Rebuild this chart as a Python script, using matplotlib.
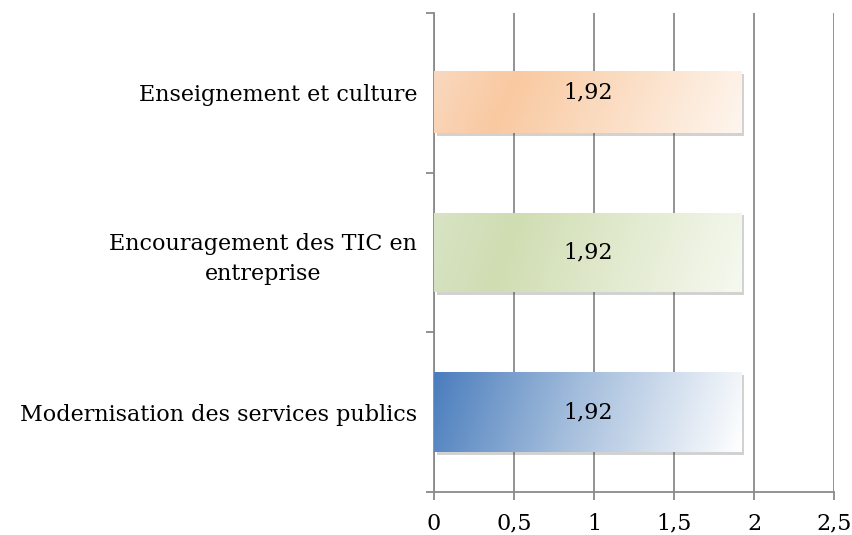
import numpy as np
import matplotlib.pyplot as plt
from matplotlib import patheffects
from matplotlib.colors import LinearSegmentedColormap

# data
categories = ['Modernisation des services publics',
              'Encouragement des TIC en\nentreprise',
              'Enseignement et culture']
values = [1.92, 1.92, 1.92]
value_labels = ['1,92', '1,92', '1,92']
xticks = [0, 0.5, 1, 1.5, 2, 2.5]
xtick_labels = ['0', '0,5', '1', '1,5', '2', '2,5']

# gradient stops for each bar (bottom to top)
gradients = [
    [(0.0, '#4a7dbd'), (0.45, '#a3bddc'), (1.0, '#ffffff')],
    [(0.0, '#d8e3c4'), (0.25, '#d0ddb2'), (1.0, '#f6f9f0')],
    [(0.0, '#f9d8be'), (0.25, '#f9c9a1'), (1.0, '#fef6ee')],
]
bar_heights = [0.5, 0.5, 0.385]

plt.rcParams['font.family'] = ['DejaVu Serif']
fs = 16
fig = plt.figure(figsize=(8.52, 5.35), dpi=100)
ax = fig.add_axes([0.5094, 0.0804, 0.4695, 0.8953])

grid_c = '#8a8a8a'
ax.set_xlim(0, 2.5)
ax.set_ylim(0, 3)
ax.set_xticks(xticks)
ax.set_xticklabels(xtick_labels, fontsize=fs)
ax.set_yticks([0, 1, 2, 3])
ax.set_yticklabels([])
ax.set_yticks([i + 0.5 for i in range(len(categories))], minor=True)
ax.set_yticklabels(categories, minor=True, fontsize=fs)
for lab in ax.get_yticklabels(minor=True):
    lab.set_multialignment('center')
    lab.set_linespacing(1.45)
ax.tick_params(axis='y', which='minor', length=0, pad=12)
ax.tick_params(axis='y', which='major', length=6, width=1.3, color=grid_c, direction='out')
ax.tick_params(axis='x', length=6, width=1.3, color=grid_c, pad=9)
for s in ['top', 'right']:
    ax.spines[s].set_visible(False)
for s in ['left', 'bottom']:
    ax.spines[s].set_color(grid_c)
    ax.spines[s].set_linewidth(1.3)
ax.grid(axis='x', color=grid_c, linewidth=1.3)
ax.set_axisbelow(True)

for i, (v, lab, stops, h) in enumerate(zip(values, value_labels, gradients, bar_heights)):
    y0 = i + 0.25
    bar = ax.barh(y0, v, height=h, align='edge', color='white', zorder=2)[0]
    bar.set_path_effects([patheffects.SimplePatchShadow(offset=(2, -2), alpha=0.25),
                          patheffects.Normal()])
    cmap = LinearSegmentedColormap.from_list('g%d' % i, stops)
    gx = np.linspace(0, 1, 300)
    gy = np.linspace(0, 1, 60)
    X, Y = np.meshgrid(gx, gy)
    Z = np.clip(X * 0.92 + (1 - Y) * 0.08, 0, 1)
    im = ax.imshow(Z, cmap=cmap, vmin=0, vmax=1, extent=[0, v, y0 + h, y0],
                   aspect='auto', zorder=3, interpolation='bilinear')
    im.set_clip_path(bar)
    ax.text(v / 2, i + 0.5, lab, ha='center', va='center', fontsize=fs, zorder=4)

ax.set_xlim(0, 2.5)
ax.set_ylim(0, 3)
fig.savefig('out.png', dpi=100)
